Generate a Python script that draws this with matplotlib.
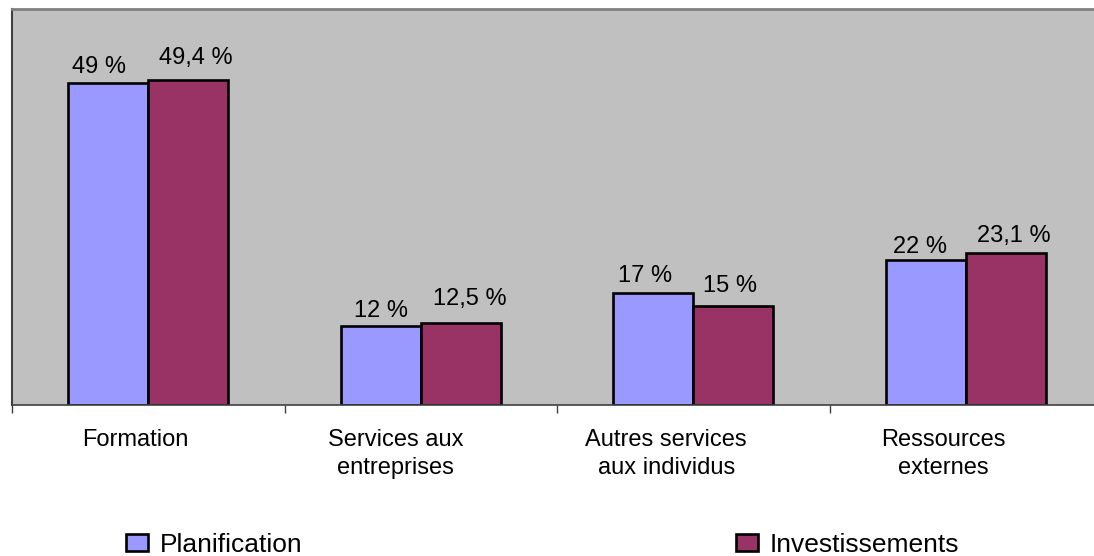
import numpy as np
import matplotlib.pyplot as plt
from matplotlib.patches import Patch
from matplotlib.transforms import ScaledTranslation

plt.rcParams['font.family'] = ['Liberation Sans', 'DejaVu Sans']

# Répartition par poste (%)
categories = ["Formation", "Services aux\nentreprises", "Autres services\naux individus", "Ressources\nexternes"]
planification = [49, 12, 17, 22]
investissements = [49.4, 12.5, 15, 23.1]
series_names = ["Planification", "Investissements"]
colors = ["#9999FF", "#993366"]

# petits décalages des étiquettes (en pixels)
nudge_plan = [(-9, 5), (0, 4), (-8, 6), (-6, 2)]
nudge_inv = [(8, 11), (9, 13), (-3, 9), (8, 6)]
nudge_ticks = [-13, -25, -27, -22]


def fmt(v):
    # format français : virgule décimale
    s = f"{v:g}".replace(".", ",")
    return f"{s} %"


fig = plt.figure(figsize=(10.94, 5.56), dpi=100)
ax = fig.add_axes([12 / 1094, 151 / 556, 1090 / 1094, 396 / 556])
ax.set_facecolor("#C0C0C0")

x = np.arange(len(categories))
w = 0.293
for vals, off, col, nudge in [(planification, -w / 2, colors[0], nudge_plan),
                              (investissements, w / 2, colors[1], nudge_inv)]:
    bars = ax.bar(x + off, vals, width=w, color=col, edgecolor="black", linewidth=1.9)
    for b, v, (dx, dy) in zip(bars, vals, nudge):
        ax.annotate(fmt(v), (b.get_x() + b.get_width() / 2, v),
                    xytext=(dx * 0.72, dy * 0.72), textcoords="offset points",
                    ha="center", va="bottom", fontsize=17)

ax.set_xlim(-0.5, 3.5)
ax.set_ylim(0, 60.2)

# étiquettes au centre, graduations aux limites des catégories
ax.set_xticks(x)
ax.set_xticklabels(categories, fontsize=17, linespacing=1.35)
ax.tick_params(axis="x", which="major", length=0, pad=17)
for lab, dx in zip(ax.get_xticklabels(), nudge_ticks):
    lab.set_transform(lab.get_transform() + ScaledTranslation(dx / 100, 0, fig.dpi_scale_trans))
ax.set_xticks(np.arange(-0.5, 4, 1), minor=True)
ax.tick_params(axis="x", which="minor", length=6, width=1, color="#404040", direction="out")
ax.set_yticks([])

ax.spines["top"].set_color("#808080")
ax.spines["top"].set_linewidth(2)
ax.spines["left"].set_color("#404040")
ax.spines["left"].set_linewidth(1.5)
ax.spines["bottom"].set_color("#404040")
ax.spines["bottom"].set_linewidth(1.2)
ax.spines["right"].set_visible(False)

handles = [Patch(facecolor=c, edgecolor="black", linewidth=1.9) for c in colors]
fig.legend(handles, series_names, loc="center left", bbox_to_anchor=(126 / 1094, 0.02),
           ncol=2, frameon=False, fontsize=19, handlelength=0.85, handleheight=0.6,
           handletextpad=0.45, columnspacing=16.4, borderpad=0, borderaxespad=0)

fig.savefig("out.png", dpi=100)
